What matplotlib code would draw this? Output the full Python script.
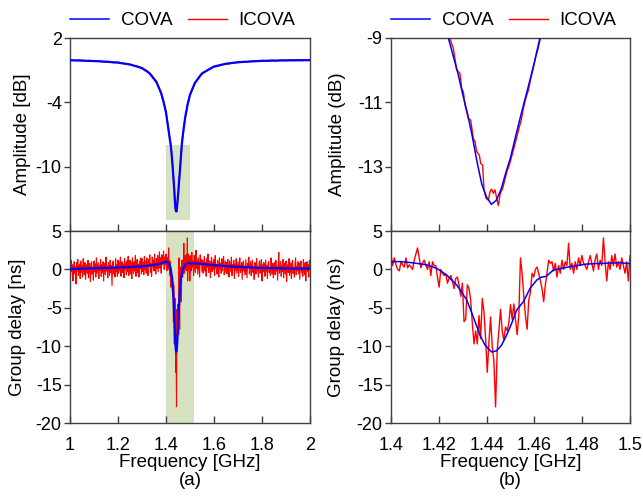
import numpy as np
import matplotlib
matplotlib.use("Agg")
import matplotlib.pyplot as plt
from matplotlib.lines import Line2D

plt.rcParams['font.family'] = ['Liberation Sans', 'DejaVu Sans']
plt.rcParams['axes.unicode_minus'] = False

# ---------------- data ----------------
# COVA amplitude (dB)
amp_f = [1.00, 1.05, 1.10, 1.15, 1.20, 1.25, 1.30, 1.33, 1.36, 1.38, 1.39, 1.40, 1.41, 1.415,
         1.420, 1.422, 1.424, 1.426, 1.428, 1.430, 1.432, 1.434, 1.436, 1.438, 1.440, 1.442,
         1.444, 1.446, 1.448, 1.450, 1.452, 1.454, 1.456, 1.458, 1.460, 1.462, 1.464, 1.466,
         1.470, 1.475, 1.48, 1.49, 1.50, 1.52, 1.55, 1.60, 1.65, 1.70, 1.80, 1.90, 2.00]
amp_cova = [-0.07, -0.11, -0.15, -0.21, -0.30, -0.47, -0.80, -1.26, -2.10, -3.15, -3.97, -4.95, -6.5, -7.3,
            -8.05, -8.5, -9.0, -9.55, -10.1, -10.75, -11.35, -12.05, -12.85, -13.55, -13.95, -14.17,
            -14.05, -13.72, -13.2, -12.72, -12.1, -11.5, -10.92, -10.35, -9.75, -9.1, -8.5, -7.9,
            -7.1, -6.2, -5.4, -4.2, -3.3, -2.2, -1.3, -0.66, -0.40, -0.26, -0.13, -0.09, -0.07]

# ICOVA amplitude (dB)
amp_icova_f = [1.00, 1.02, 1.04, 1.06, 1.08, 1.10, 1.12, 1.14, 1.16, 1.18, 1.20, 1.22, 1.24, 1.26,
               1.28, 1.30, 1.32, 1.34, 1.36, 1.38, 1.39, 1.40, 1.41, 1.415, 1.42, 1.4225,
               1.42469, 1.42608, 1.42748, 1.42887, 1.42957, 1.43026, 1.43096, 1.43236, 1.43333,
               1.43445, 1.43515, 1.43584, 1.43696, 1.43752, 1.43835, 1.43891, 1.43975, 1.44073,
               1.44142, 1.44212, 1.44282, 1.44351, 1.44421, 1.44491, 1.44561, 1.44672, 1.4475,
               1.4485, 1.4495, 1.4505, 1.4515, 1.4525, 1.4535, 1.4545, 1.4555, 1.4565, 1.4575,
               1.4585, 1.4595, 1.4605, 1.4615, 1.4625, 1.4635, 1.466, 1.47, 1.475, 1.48, 1.49,
               1.50, 1.52, 1.54, 1.56, 1.58, 1.60, 1.62, 1.64, 1.66, 1.68, 1.70, 1.72, 1.74, 1.76,
               1.78, 1.80, 1.82, 1.84, 1.86, 1.88, 1.90, 1.92, 1.94, 1.96, 1.98, 2.00]
amp_icova = [-0.05, -0.12, -0.04, -0.13, -0.10, -0.18, -0.12, -0.24, -0.19, -0.30, -0.25, -0.37, -0.40, -0.55,
             -0.62, -0.85, -1.05, -1.45, -2.05, -3.2, -3.95, -4.9, -6.45, -7.25, -7.9, -8.55,
             -9.03, -9.32, -9.99, -10.10, -10.57, -10.67, -11.08, -11.50, -11.55,
             -12.12, -12.22, -12.53, -12.64, -12.90, -12.95, -13.72, -13.98, -14.04,
             -13.78, -13.70, -13.83, -13.72, -13.98, -14.21, -13.86, -13.67, -13.45,
             -13.15, -12.95, -12.68, -12.40, -12.12, -11.82, -11.55, -11.15, -10.85, -10.62,
             -10.25, -9.95, -9.60, -9.35, -9.0, -8.7, -7.95, -7.15, -6.25, -5.45, -4.25,
             -3.3, -2.25, -1.55, -1.18, -0.92, -0.70, -0.60, -0.45, -0.42, -0.30, -0.29, -0.20, -0.22, -0.13,
             -0.17, -0.10, -0.14, -0.07, -0.12, -0.05, -0.10, -0.03, -0.09, -0.02, -0.08, -0.04]

# COVA group delay (ns)
gd_cova_f = [1.00, 1.05, 1.10, 1.15, 1.20, 1.25, 1.30, 1.33, 1.36, 1.38, 1.39,
             1.400, 1.4038, 1.4093, 1.4149, 1.4191, 1.4233, 1.4275, 1.4317, 1.4344, 1.4372, 1.4393,
             1.4421, 1.4442, 1.4463, 1.4484, 1.4505, 1.4526, 1.4554, 1.4582, 1.4610, 1.4630, 1.4650,
             1.4679, 1.4749, 1.4819, 1.4888, 1.4958, 1.500,
             1.52, 1.55, 1.60, 1.65, 1.70, 1.75, 1.80, 1.85, 1.90, 1.95, 2.00]
gd_cova = [0.05, 0.10, 0.15, 0.20, 0.25, 0.32, 0.40, 0.50, 0.65, 0.80, 0.90,
           1.0, 1.02, 0.85, 0.6, 0.14, -0.73, -2.03, -3.98, -6.16, -8.54, -9.84,
           -10.75, -10.6, -9.84, -8.54, -7.02, -5.29, -4.2, -2.47, -1.38, -1.0, -0.9,
           -0.08, 0.35, 0.7, 0.79, 0.87, 0.75,
           0.8, 0.72, 0.55, 0.42, 0.33, 0.26, 0.2, 0.16, 0.13, 0.11, 0.10]

# ICOVA group delay (ns): 1.0-1.3975 GHz, step 2.5 MHz
gd_icova_low = [
    0.8, -0.9, 1.2, -0.3, 0.6, -1.5, 0.2, 1.0, -0.6, 0.4, -1.9, 0.9, -0.2, 1.3, -0.8, 0.3, 0.7, -1.2, 1.1, -0.4,
    0.5, -1.0, 1.4, 0.0, -0.7, 0.9, -1.3, 0.6, 0.2, -0.5, 1.2, -1.1, 0.4, 0.8, -1.6, 0.3, 1.0, -0.6, 0.1, -1.4,
    1.1, -0.3, 0.7, -1.0, 1.5, -0.5, 0.2, 0.9, -1.2, 0.5, -0.1, 1.3, -0.9, 0.6, -0.4, 1.0, -1.5, 0.3, 0.8, -0.7,
    1.6, -0.2, 0.4, -1.1, 0.9, 0.1, -0.8, 1.2, -0.4, 0.5, -2.1, 0.7, 1.1, -0.6, 0.3, -1.0, 1.4, -0.3, 0.6, -0.9,
    1.2, -0.5, 0.9, -0.2, 1.6, -0.9, 0.5, 1.0, -0.4, 0.7, -1.1, 1.4, 0.0, 0.8, -0.7, 1.1, -0.3, 1.7, -0.8, 0.4,
    1.2, -0.6, 0.9, -1.2, 1.5, 0.2, -0.5, 1.0, -0.2, 1.8, -0.9, 0.6, 1.3, -0.4, 0.7, -1.0, 1.1, 0.1, 1.5, -0.6,
    1.4, -0.3, 0.9, -0.7, 1.7, 0.0, 1.1, -0.5, 1.5, 0.2, -0.8, 1.3, 0.4, 1.9, -0.4, 0.8, -0.9, 1.6, 0.3, 1.2,
    -0.2, 2.0, 0.5, -0.6, 1.4, 0.1, 1.8, -0.3, 1.0, 2.3, 0.2, 1.5, -0.5, 1.9, 0.6, 1.2, 2.4, 0.0, 1.6, 0.8]
# ICOVA group delay (ns): 1.4-1.5 GHz, 145 samples
gd_icova_mid = [
    2.0, 0.5, 1.5, 0.6, 0.0, -0.2, 1.0, 0.6, 0.3, 1.5, 0.2, 0.6, 0.3, 0.0, 1.2, 2.0, 2.8, 1.5, 0.2, 0.8,
    1.2, 0.5, 0.0, 1.0, -0.8, 1.0, 0.5, 0.5, -1.0, -2.3, 0.0, -0.5, -0.8, -0.6, -1.8, -1.2, -0.8, -1.5, -2.5, -1.2,
    -1.0, -2.0, -3.5, -1.8, -6.8, -6.5, -2.0, -2.5, -4.0, -7.0, -9.7, -8.0, -9.7, -6.0, -9.0, -3.8, -5.5, -9.0, -13.4, -9.5,
    -6.2, -10.0, -12.0, -17.9, -10.5, -8.0, -5.2, -8.0, -9.2, -7.5, -8.0, -7.0, -4.6, -6.5, -4.5, -6.5, -8.5, -6.0, 1.5, -0.5,
    -3.5, -6.0, -7.8, -4.0, -3.0, -0.5, -1.0, 0.0, 0.3, -0.5, -1.5, -2.5, -4.2, -2.0, -0.5, 1.2, 0.8, 1.0, -0.2, 0.8,
    -1.0, 0.5, -0.5, 1.2, 0.0, 1.0, 0.5, 3.4, 0.0, 0.8, -0.5, 1.0, 0.0, 1.5, 0.5, 1.8, 0.8, 0.5, 0.0, 1.0,
    1.8, 0.8, -0.2, 1.3, 2.0, 0.0, 1.2, 0.5, 4.1, 1.0, -1.5, 1.0, 0.0, 1.8, 0.5, 2.0, 0.3, 1.0, 0.0, 1.5,
    0.5, -0.5, 1.0, -1.5, 1.8]
# ICOVA group delay (ns): 1.5025-2.0 GHz, step 2.5 MHz
gd_icova_high = [
    1.6, -0.2, 2.2, 0.3, 1.1, -0.8, 1.8, 0.5, -0.4, 2.5, 0.1, 1.2, -0.6, 1.5, 0.4, -1.0, 1.9, 0.6, 1.3, -0.3,
    1.2, -0.5, 0.8, 1.7, -0.2, 0.9, -0.9, 1.4, 0.3, 2.0, -0.4, 0.7, 1.1, -1.1, 0.5, 1.6, -0.3, 0.9, 0.0, 1.3,
    -0.8, 1.8, 0.2, 0.6, -0.6, 1.2, 0.4, -1.0, 1.5, 0.1, 0.8, -0.5, 1.4, -0.2, 0.9, 1.7, -0.7, 0.3, 1.1, -0.4,
    0.9, -0.6, 1.3, 0.0, -1.0, 1.1, 0.4, -0.3, 1.6, -0.8, 0.6, 0.2, 1.2, -1.2, 0.7, -0.1, 1.4, -0.5, 0.3, 1.0,
    -0.9, 0.5, 1.5, -0.4, 0.1, 0.9, -1.3, 0.6, 1.1, -0.2, 0.4, -0.7, 1.3, 0.0, -1.1, 0.8, 0.3, 1.6, -0.6, 0.5,
    1.0, -0.8, 0.4, 1.2, -0.4, 0.2, -1.3, 0.9, 0.5, -0.6, 1.4, -0.1, 0.3, -1.0, 0.8, 1.1, -0.5, 0.0, 1.3, -1.5,
    0.6, -0.3, 0.9, 0.2, -0.9, 1.2, -0.2, 0.5, -1.2, 0.7, 1.0, -0.4, 0.1, -0.8, 1.5, 0.3, -0.6, 0.8, -1.1, 0.4,
    0.9, -0.7, 1.2, -0.2, 0.4, -1.4, 0.7, 2.2, -0.5, 0.1, 1.0, -0.9, 0.5, -0.3, 1.3, -1.1, 0.2, 0.8, -0.6, 1.1,
    -1.6, 0.3, 0.6, -0.4, 1.4, -0.8, 0.0, 0.9, -1.2, 0.5, 1.2, -0.5, 0.2, -1.0, 0.8, 1.5, -0.7, 0.4, -0.2, 1.0,
    -0.6, 0.8, -1.3, 0.5, 1.1, -0.4, 0.2, -0.9, 1.3, 0.0, -0.7, 0.9, -1.5, 0.4, 1.0, -0.3, 0.6, -1.0, 1.2, 0.3]

# frequency axes of the sampled ICOVA group delay
f_low = np.linspace(1.0, 1.3975, len(gd_icova_low))
f_mid = np.linspace(1.4, 1.5, len(gd_icova_mid))
f_high = np.linspace(1.5025, 2.0, len(gd_icova_high))
gd_icova_f = np.concatenate([f_low, f_mid, f_high])
gd_icova = np.concatenate([gd_icova_low, gd_icova_mid, gd_icova_high])

# highlighted regions
box_amp_x = (1.40, 1.50)
box_amp_y = (-15.0, -8.0)
box_gd_x = (1.40, 1.515)

xticks_a = [1.0, 1.2, 1.4, 1.6, 1.8, 2.0]
xtick_labels_a = ['1', '1.2', '1.4', '1.6', '1.8', '2']
xticks_b = [1.40, 1.42, 1.44, 1.46, 1.48, 1.50]
xtick_labels_b = ['1.4', '1.42', '1.44', '1.46', '1.48', '1.5']
series_names = ['COVA', 'ICOVA']

# ---------------- figure ----------------
W, H = 643, 498
fig = plt.figure(figsize=(W / 100, H / 100), dpi=100)

def frac(x0, y0, x1, y1):
    return [x0 / W, 1 - y1 / H, (x1 - x0) / W, (y1 - y0) / H]

ax_a1 = fig.add_axes(frac(70, 38, 310, 231))
ax_a2 = fig.add_axes(frac(70, 231, 310, 423))
ax_b1 = fig.add_axes(frac(391, 38, 630, 231))
ax_b2 = fig.add_axes(frac(391, 231, 630, 423))

BLUE = '#0000ff'
RED = '#ff0000'
GREEN = '#d6e2c1'
SPINE = '#404040'
TICK_FS = 13
LABEL_FS = 13.5

for ax in (ax_a1, ax_a2, ax_b1, ax_b2):
    for s in ax.spines.values():
        s.set_color(SPINE)
        s.set_linewidth(1.0)
    ax.tick_params(axis='x', direction='in', length=5, width=1, color=SPINE,
                   labelsize=TICK_FS, pad=10)
    ax.tick_params(axis='y', direction='out', length=4, width=1, color=SPINE,
                   labelsize=TICK_FS, pad=2)

# (a) amplitude
ax_a1.add_patch(plt.Rectangle((box_amp_x[0], box_amp_y[0]), box_amp_x[1] - box_amp_x[0],
                              box_amp_y[1] - box_amp_y[0], facecolor=GREEN, edgecolor='none', zorder=0))
ax_a1.plot(amp_icova_f, amp_icova, color=RED, lw=1.0, zorder=2)
ax_a1.plot(amp_f, amp_cova, color=BLUE, lw=1.6, zorder=3)
ax_a1.set_xlim(1.0, 2.0)
ax_a1.set_ylim(-16, 2)
ax_a1.set_yticks([2, -4, -10])
ax_a1.set_xticks(xticks_a)
ax_a1.tick_params(labelbottom=False)
ax_a1.set_ylabel('Amplitude [dB]', fontsize=LABEL_FS)
ax_a1.yaxis.set_label_coords(-0.1625, 0.5)

# (a) group delay
ax_a2.axvspan(box_gd_x[0], box_gd_x[1], facecolor=GREEN, edgecolor='none', zorder=0)
ax_a2.plot(gd_icova_f, gd_icova, color=RED, lw=0.8, zorder=2)
ax_a2.plot(gd_cova_f, gd_cova, color=BLUE, lw=1.6, zorder=3)
ax_a2.set_xlim(1.0, 2.0)
ax_a2.set_ylim(-20, 5)
ax_a2.set_yticks([5, 0, -5, -10, -15, -20])
ax_a2.set_xticks(xticks_a)
ax_a2.set_xticklabels(xtick_labels_a)
ax_a2.set_ylabel('Group delay [ns]', fontsize=LABEL_FS)
ax_a2.yaxis.set_label_coords(-0.183, 0.5)
ax_a2.set_xlabel('Frequency [GHz]', fontsize=LABEL_FS, labelpad=0)

# (b) amplitude
ax_b1.plot(amp_icova_f, amp_icova, color=RED, lw=1.0, zorder=2)
ax_b1.plot(amp_f, amp_cova, color=BLUE, lw=1.1, zorder=3)
ax_b1.set_xlim(1.4, 1.5)
ax_b1.set_ylim(-15, -9)
ax_b1.set_yticks([-9, -11, -13])
ax_b1.set_xticks(xticks_b)
ax_b1.tick_params(labelbottom=False)
ax_b1.set_ylabel('Amplitude (dB)', fontsize=LABEL_FS)
ax_b1.yaxis.set_label_coords(-0.188, 0.5)

# (b) group delay
ax_b2.plot(gd_icova_f, gd_icova, color=RED, lw=1.0, zorder=2)
ax_b2.plot(gd_cova_f, gd_cova, color=BLUE, lw=1.1, zorder=3)
ax_b2.set_xlim(1.4, 1.5)
ax_b2.set_ylim(-20, 5)
ax_b2.set_yticks([5, 0, -5, -10, -15, -20])
ax_b2.set_xticks(xticks_b)
ax_b2.set_xticklabels(xtick_labels_b)
ax_b2.set_ylabel('Group delay (ns)', fontsize=LABEL_FS)
ax_b2.yaxis.set_label_coords(-0.192, 0.5)
ax_b2.set_xlabel('Frequency [GHz]', fontsize=LABEL_FS, labelpad=0)

# legends (thin handles)
handles = [Line2D([], [], color=BLUE, lw=1.1), Line2D([], [], color=RED, lw=1.0)]
for ax in (ax_a1, ax_b1):
    ax.legend(handles, series_names, loc='lower left',
              bbox_to_anchor=(0.0, 1.045), ncol=2, frameon=False, borderpad=0,
              borderaxespad=0, handlelength=2.1, handletextpad=0.62, columnspacing=0.8,
              fontsize=LABEL_FS)

fig.text(190 / W, 1 - 480 / H, '(a)', ha='center', va='center', fontsize=LABEL_FS)
fig.text(510 / W, 1 - 480 / H, '(b)', ha='center', va='center', fontsize=LABEL_FS)

fig.savefig('out.png', dpi=100)
